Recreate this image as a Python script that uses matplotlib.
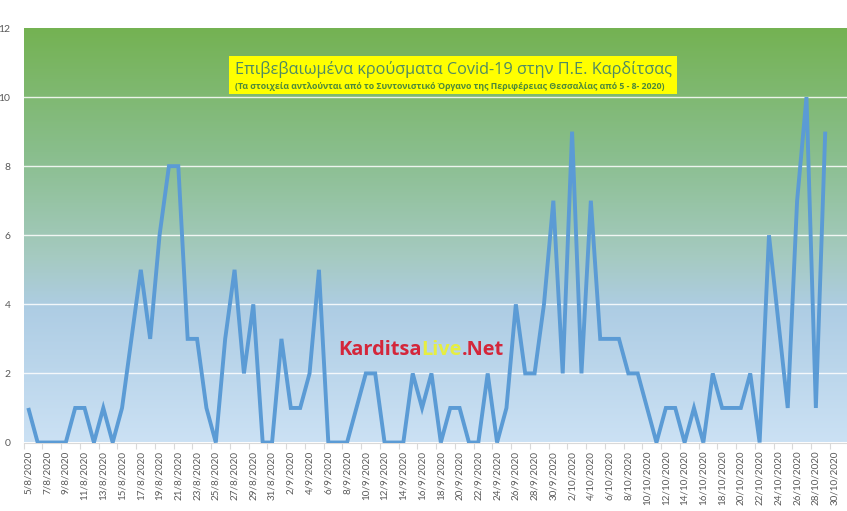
import numpy as np
import pandas as pd
import matplotlib
matplotlib.use("Agg")
import matplotlib.pyplot as plt
from matplotlib.colors import LinearSegmentedColormap
from matplotlib.patches import Rectangle

# ---------------- data ----------------
dates = pd.date_range("2020-08-05", "2020-10-30", freq="D")
categories = [f"{d.day}/{d.month}/{d.year}" for d in dates]

cases_aug = [1, 0, 0, 0, 0, 1, 1, 0, 1, 0, 1, 3, 5, 3, 6, 8, 8, 3, 3, 1, 0, 3, 5, 2, 4, 0, 0]
cases_sep = [3, 1, 1, 2, 5, 0, 0, 0, 1, 2, 2, 0, 0, 0, 2, 1, 2, 0, 1, 1, 0, 0, 2, 0, 1, 4, 2, 2, 4, 7]
cases_oct = [2, 9, 2, 7, 3, 3, 3, 2, 2, 1, 0, 1, 1, 0, 1, 0, 2, 1, 1, 1, 2, 0, 6, None, 1, 7, 10, 1, 9, None]

title_main = "Επιβεβαιωμένα κρούσματα Covid-19 στην Π.Ε. Καρδίτσας"
title_sub = "(Τα στοιχεία αντλούνται από το Συντονιστικό Όργανο της Περιφέρειας Θεσσαλίας από 5 - 8- 2020)"
yticks = [0, 2, 4, 6, 8, 10, 12]

# ---------------- figure ----------------
W, H = 847, 511
fig = plt.figure(figsize=(W / 100, H / 100), dpi=100)
fig.patch.set_facecolor("white")

ax_left, ax_right = 23.6 / W, 1.0
ax_top, ax_bottom = (H - 28.0) / H, (H - 442.5) / H
ax = fig.add_axes([ax_left, ax_bottom, ax_right - ax_left, ax_top - ax_bottom])

values = cases_aug + cases_sep + cases_oct
x = np.arange(len(categories))
vals = np.array([np.nan if v is None else v for v in values], dtype=float)
mask = ~np.isnan(vals)

xmax = 86.5 + 7.7 / 9.376

# gradient background (green at top -> light blue at bottom)
stops = [
    (0.00, (116 / 255, 178 / 255, 82 / 255)),
    (0.30, (137 / 255, 190 / 255, 140 / 255)),
    (0.55, (165 / 255, 202 / 255, 192 / 255)),
    (0.68, (174 / 255, 205 / 255, 228 / 255)),
    (1.00, (203 / 255, 225 / 255, 244 / 255)),
]
cmap = LinearSegmentedColormap.from_list("bg", stops)
grad = np.linspace(0, 1, 256).reshape(-1, 1)
ax.imshow(grad, cmap=cmap, aspect="auto", extent=(-0.5, xmax, 0, 12),
          origin="upper", zorder=0, interpolation="bilinear")
ax.set_xlim(-0.5, xmax)
ax.set_ylim(0, 12)

# grid lines
for yv in yticks[1:-1]:
    ax.axhline(yv, color="white", lw=1.0, alpha=0.85, zorder=1)

# line
ax.plot(x[mask], vals[mask], color="#5B9BD5", lw=2.8, solid_joinstyle="miter",
        solid_capstyle="butt", zorder=3)

# axes styling
for s in ["top", "right", "left"]:
    ax.spines[s].set_visible(False)
ax.spines["bottom"].set_color("#D9D9D9")
ax.spines["bottom"].set_linewidth(0.8)

lab_font = ["Lato", "DejaVu Sans"]
ax.set_yticks(yticks)
ax.set_yticklabels([str(v) for v in yticks], family=lab_font, fontsize=7.5, color="#595959")
ax.tick_params(axis="y", length=0, pad=9.5)

ax.set_xticks(x[::2])
ax.set_xticklabels(categories[::2], rotation=90, family=lab_font, fontsize=7.1,
                   color="#595959", va="top", ha="center")
ax.set_xticks(np.arange(-0.5, 87, 2), minor=True)
ax.tick_params(axis="x", which="major", length=0, pad=6)
ax.tick_params(axis="x", which="minor", length=4, color="#D9D9D9", width=0.8)

# title box
bx0, bx1, by0, by1 = 229, 677, 56, 94
fig.patches.append(Rectangle((bx0 / W, 1 - by1 / H), (bx1 - bx0) / W, (by1 - by0) / H,
                             transform=fig.transFigure, facecolor="#FFFF00",
                             edgecolor="none", zorder=5))
greek_font = ["Open Sans", "Noto Sans", "DejaVu Sans"]
fig.text(453 / W, 1 - 69.5 / H, title_main, ha="center", va="center",
         family=greek_font, fontsize=11.7, color="#4F8A63", zorder=6)
fig.text(450 / W, 1 - 86.5 / H, title_sub, ha="center", va="center",
         family=greek_font, fontsize=6.3, fontweight="bold", color="#4E8A3A", zorder=6)

# watermark
fig.canvas.draw()
renderer = fig.canvas.get_renderer()
parts = [("Karditsa", "#D4263A"), ("Live", "#E6EE40"), (".Net", "#D4263A")]
xpos = 338
wm_font = ["Open Sans", "DejaVu Sans"]
for txt, col in parts:
    t = fig.text(xpos / W, 1 - 350 / H, txt, ha="left", va="center", family=wm_font,
                 fontsize=14.4, fontweight="bold", color=col, zorder=6)
    bb = t.get_window_extent(renderer=renderer)
    xpos += bb.width

fig.savefig("out.png", dpi=100)
